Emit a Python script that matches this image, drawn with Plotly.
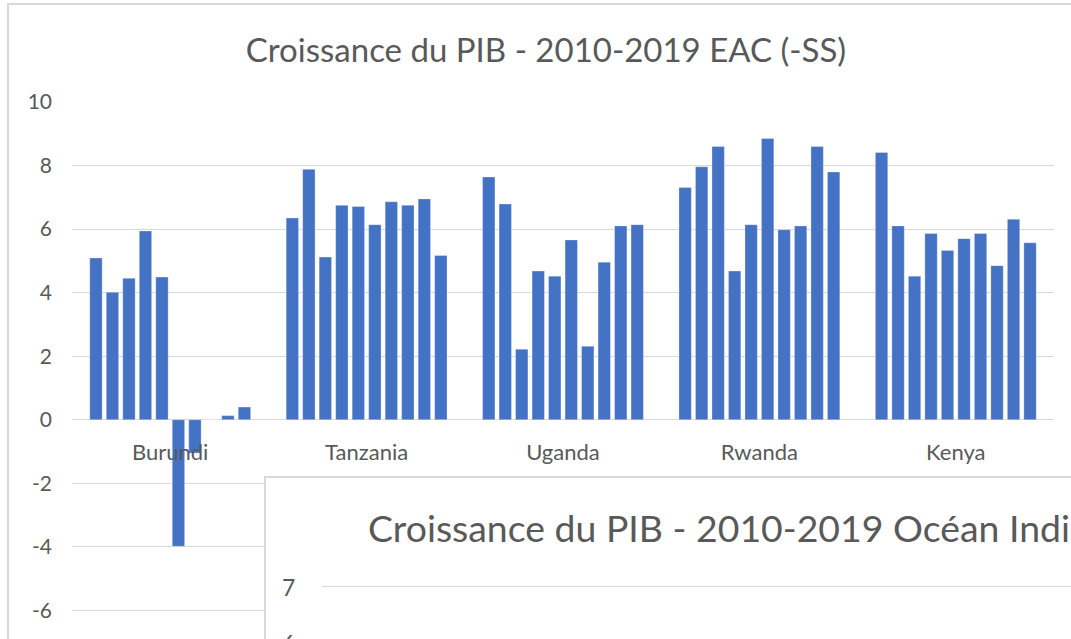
import plotly.graph_objects as go

# ---------------- data ----------------
countries = ["Burundi", "Tanzania", "Uganda", "Rwanda", "Kenya"]
years = ["2010", "2011", "2012", "2013", "2014", "2015", "2016", "2017", "2018", "2019"]
burundi = [5.09, 4.01, 4.45, 5.94, 4.49, -3.98, -1.05, 0.0, 0.13, 0.40]
tanzania = [6.35, 7.88, 5.12, 6.75, 6.71, 6.14, 6.86, 6.75, 6.95, 5.17]
uganda = [7.64, 6.79, 2.22, 4.68, 4.52, 5.66, 2.31, 4.96, 6.10, 6.14]
rwanda = [7.31, 7.96, 8.60, 4.68, 6.14, 8.85, 5.98, 6.10, 8.60, 7.80]
kenya = [8.41, 6.10, 4.52, 5.86, 5.33, 5.70, 5.86, 4.85, 6.31, 5.57]
y_ticks = [-8, -6, -4, -2, 0, 2, 4, 6, 8, 10]
y_tick_labels = ["-8", "-6", "-4", "-2", "0", "2", "4", "6", "8", "10"]
title_text = "Croissance du PIB - 2010-2019 EAC (-SS)"
inset_title = "Croissance du PIB - 2010-2019 Océan Indien"
inset_ticks = ["7", "6"]

series = [burundi, tanzania, uganda, rwanda, kenya]

# ---------------- layout geometry ----------------
W, H = 1071, 639
L, R, T, B = 72, 17, 102, 0
Y_MIN, Y_MAX = -6.9, 10
plot_w = W - L - R
plot_h = H - T - B

def px(x):
    return (x - L) / plot_w

def py(y):
    return (H - B - y) / plot_h

BAR = "#4472C4"
TXT = "#595959"
GRID = "#D9D9D9"
FONT = "Lato"

fig = go.Figure()
for i, yr in enumerate(years):
    fig.add_trace(go.Bar(
        x=countries,
        y=[s[i] for s in series],
        name=yr,
        marker=dict(color=BAR, line=dict(color="rgba(255,255,255,0.5)", width=0.6)),
        showlegend=False,
    ))

zero_pos = (0 - Y_MIN) / (Y_MAX - Y_MIN)

fig.update_layout(
    width=W, height=H,
    margin=dict(l=L, r=R, t=T, b=B, pad=0),
    paper_bgcolor="white", plot_bgcolor="white",
    barmode="group", bargap=0.16, bargroupgap=0.25,
    font=dict(family=FONT, color=TXT),
    title=dict(text=title_text, font=dict(size=33, color=TXT, family=FONT),
               x=546 / W, xref="container", xanchor="center",
               y=1 - 50 / H, yref="container", yanchor="middle"),
    xaxis=dict(anchor="free", position=zero_pos, showline=False, ticks="",
               showgrid=False, zeroline=False,
               tickfont=dict(size=22, color=TXT), ticklabelstandoff=17),
    yaxis=dict(range=[Y_MIN, Y_MAX], tickvals=y_ticks, ticktext=y_tick_labels,
               showgrid=True, gridcolor=GRID, gridwidth=1, zeroline=True,
               zerolinecolor=GRID, zerolinewidth=1, showline=False, ticks="",
               tickfont=dict(size=21, color=TXT), ticklabelstandoff=19),
)

shapes = [
    # outer chart frame
    dict(type="rect", xref="paper", yref="paper",
         x0=px(8), x1=px(W + 40), y0=py(H + 40), y1=py(4),
         line=dict(color=GRID, width=2), fillcolor="rgba(0,0,0,0)", layer="below"),
    # overlapping second chart box
    dict(type="rect", xref="paper", yref="paper",
         x0=px(265), x1=px(W + 40), y0=py(H + 60), y1=py(477),
         line=dict(color=GRID, width=2), fillcolor="white", layer="above"),
    # gridline of the second chart
    dict(type="line", xref="paper", yref="paper",
         x0=px(322), x1=px(W + 40), y0=py(586.5), y1=py(586.5),
         line=dict(color=GRID, width=1), layer="above"),
]
fig.update_layout(shapes=shapes)

annotations = [
    dict(text=inset_title, xref="paper", yref="paper", x=px(366), y=py(527),
         xanchor="left", yanchor="middle", showarrow=False,
         font=dict(size=37.4, color=TXT, family=FONT)),
]
for k, t in enumerate(inset_ticks):
    annotations.append(dict(text=t, xref="paper", yref="paper",
                            x=px(297), y=py(587 + k * 56), xanchor="right",
                            yanchor="middle", showarrow=False,
                            font=dict(size=23, color=TXT, family=FONT)))
fig.update_layout(annotations=annotations)

fig.write_html("out.html", config={"displayModeBar": False},
               post_script="document.body.style.margin='0';document.body.style.overflow='hidden';")
